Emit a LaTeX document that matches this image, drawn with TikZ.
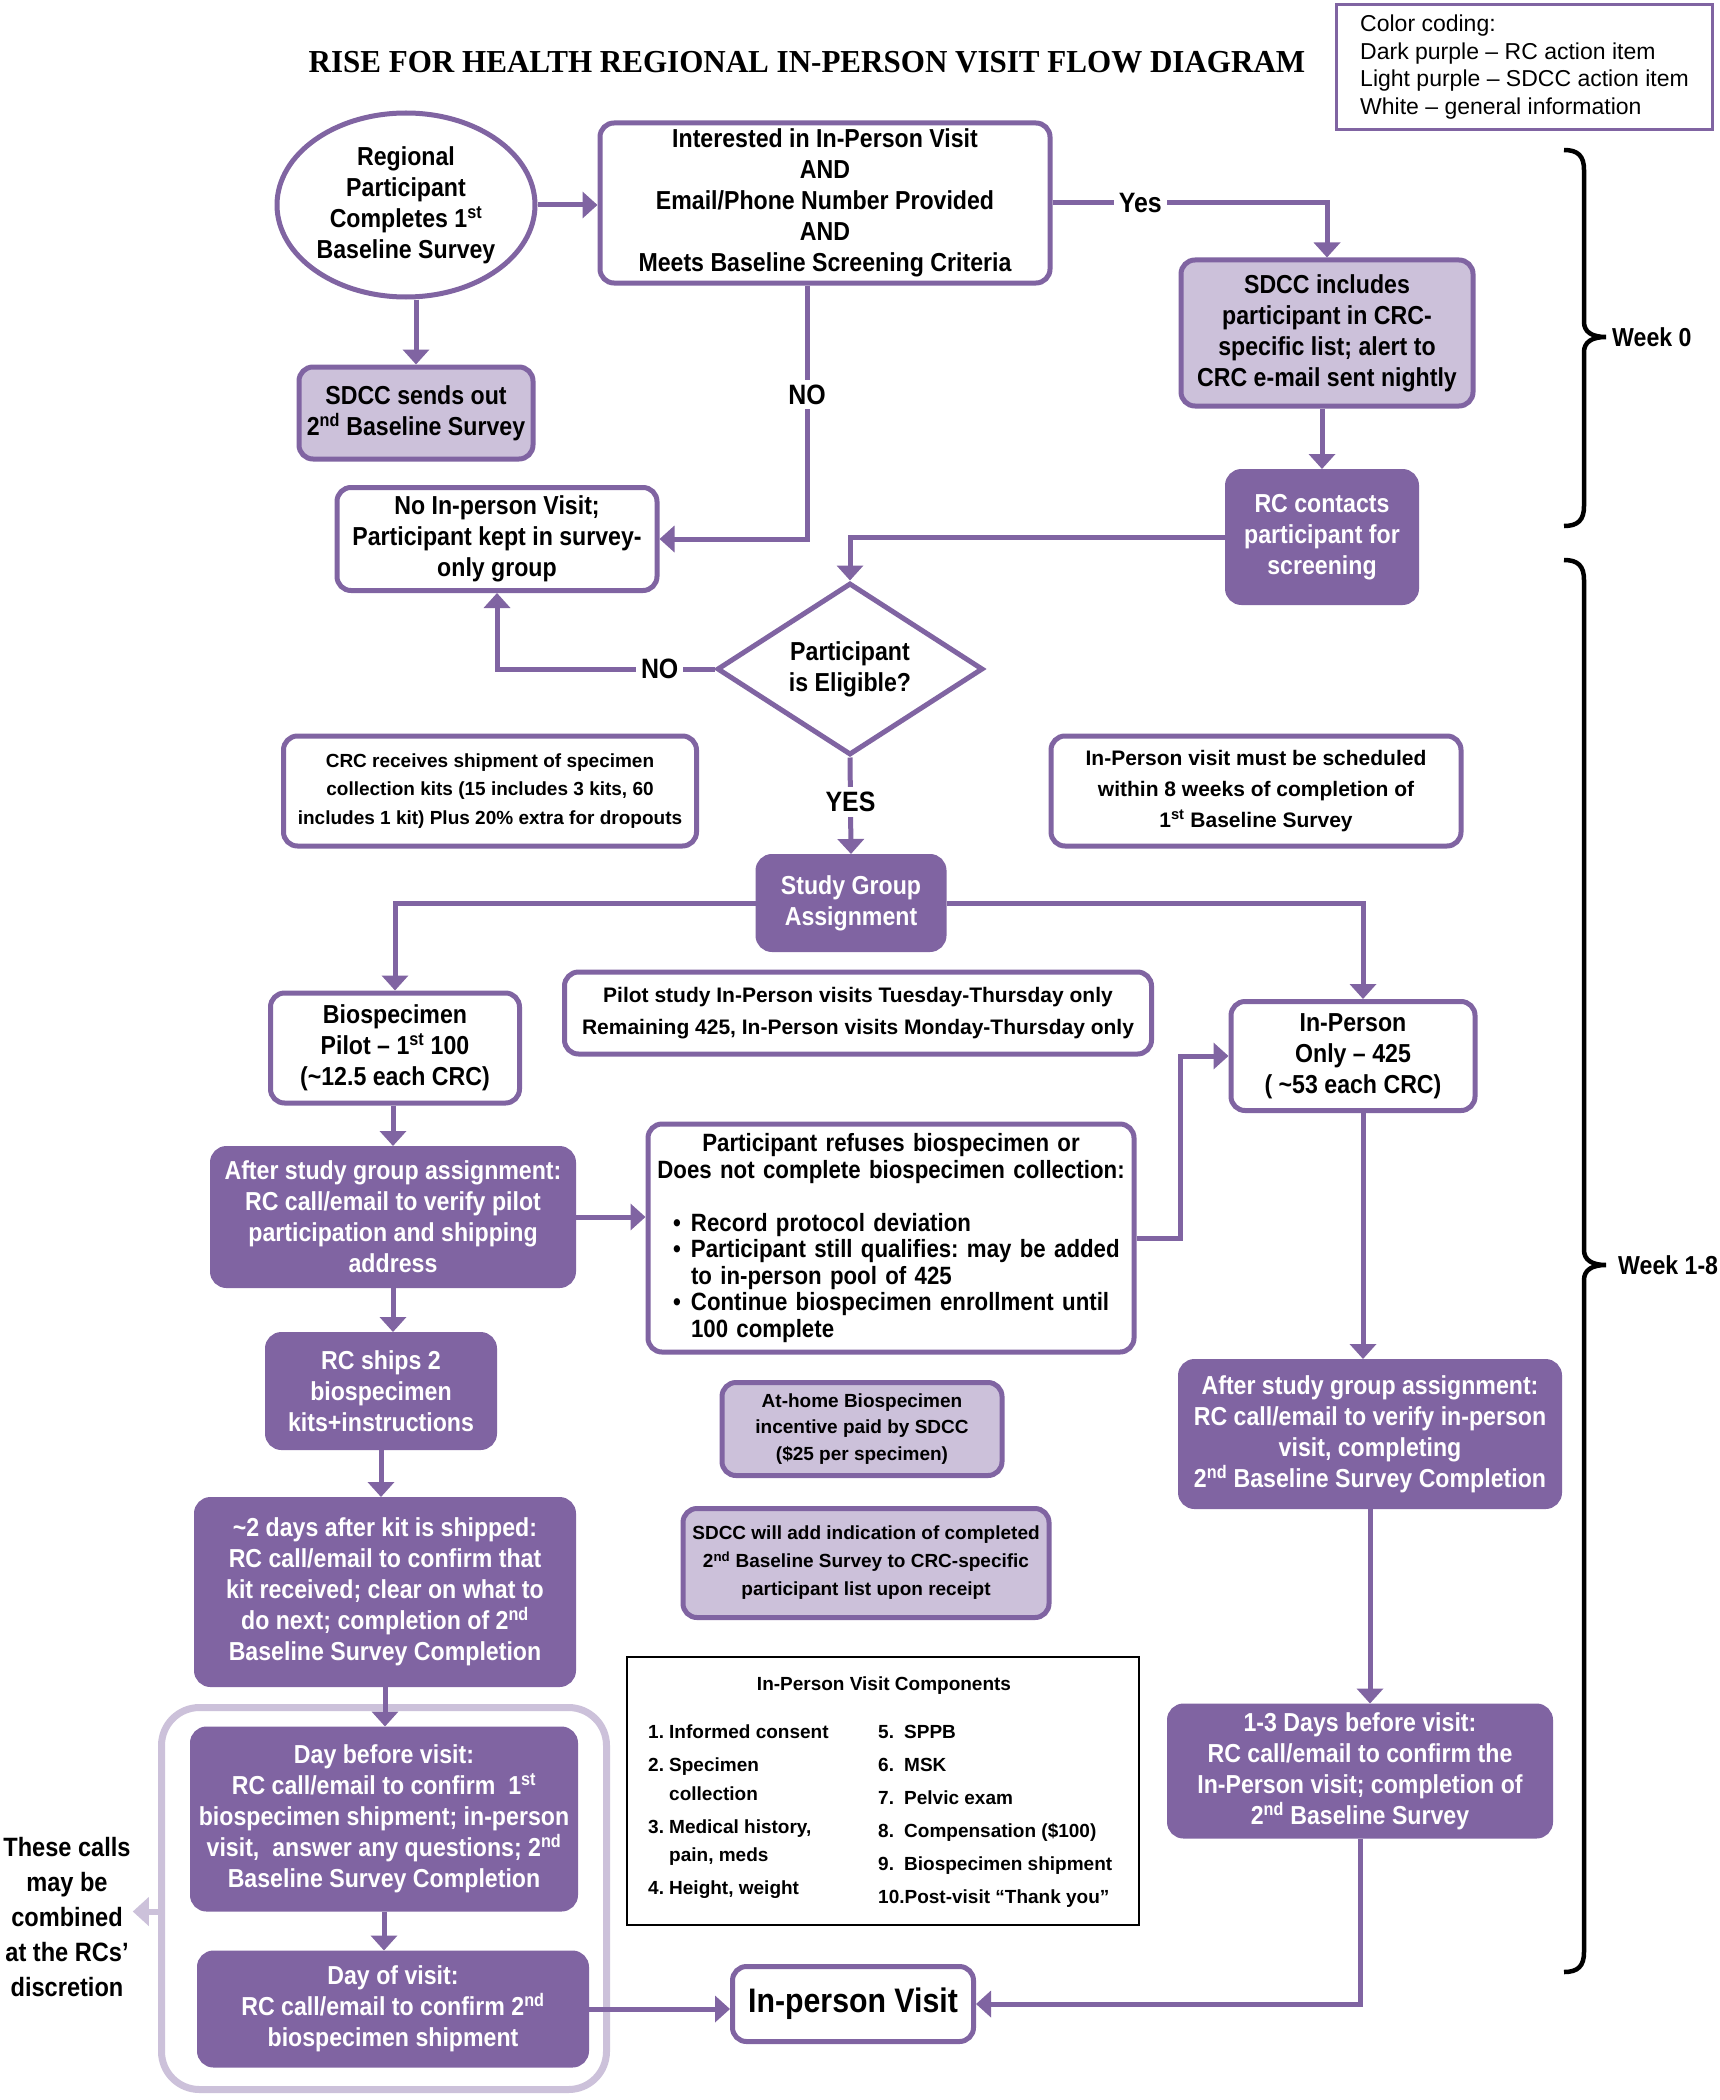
\documentclass[tikz,border=0pt]{standalone}
\usepackage{fontspec}
\setmainfont{Liberation Sans}[FakeStretch=0.89]
\newfontfamily\plainfont{Liberation Sans}
\newfontfamily\titlefont{Liberation Serif}[FakeStretch=0.97]
\usetikzlibrary{arrows.meta,shapes.geometric,calc}
\definecolor{rcpurple}{RGB}{128,100,162}
\definecolor{sdpurple}{RGB}{204,193,218}
\newcommand\bulitem{\par\noindent\hspace*{17pt}\makebox[18pt][l]{•}}
\newcommand\bulcont{\par\noindent\hspace*{35pt}}
\frenchspacing
\begin{document}
\begin{tikzpicture}[x=1pt,y=-1pt,
  bx/.style={draw=rcpurple, line width=5pt, align=center, inner sep=3pt,
    font=\bfseries\fontsize{26}{31}\selectfont},
  box/.style={bx, rectangle, rounded corners=14pt},
  rcbox/.style={box, fill=rcpurple, text=white},
  sdbox/.style={box, fill=sdpurple, text=black},
  wbox/.style={box, fill=white, text=black},
  smallfont/.style={font=\plainfont\bfseries\fontsize{19}{28.5}\selectfont},
  arr/.style={draw=rcpurple, line width=5pt, -{Triangle[width=26pt,length=15pt]}},
  lightarr/.style={draw=sdpurple, line width=6pt, -{Triangle[width=28pt,length=16pt]}},
  lbl/.style={fill=white, text=black, inner sep=5pt, font=\bfseries\fontsize{28}{30}\selectfont},
  bracepath/.style={draw=black, line width=4.5pt},
  comptext/.style={font=\plainfont\bfseries\fontsize{19}{28.5}\selectfont, align=left, inner sep=0pt, anchor=north west}
]
\fill[white] (0,0) rectangle (1719,2100);
\useasboundingbox (0,0) rectangle (1719,2100);

% title and legend
\node[font=\titlefont\bfseries\fontsize{32}{34}\selectfont] (title) at (807,62) {RISE FOR HEALTH REGIONAL IN-PERSON VISIT FLOW DIAGRAM};
\node[draw=rcpurple, line width=3pt, minimum width=376pt, minimum height=125pt, align=left, inner sep=0pt,
  font=\plainfont\fontsize{23}{27.7}\selectfont] (legend) at (1524.5,67)
  {Color coding:\\Dark purple – RC action item\\Light purple – SDCC action item\\White – general information};

% frame behind the last two calls
\node[draw=sdpurple, line width=7pt, rounded corners=38pt, minimum width=445pt, minimum height=382pt, fill=white] (frame) at (384,1898.5) {};

% top part
\node[bx, ellipse, fill=white, inner sep=0pt, minimum width=258pt, minimum height=184pt] (start) at (406,205)
  {Regional\\Participant\\Completes 1\textsuperscript{st}\\Baseline Survey};
\node[wbox, minimum width=450pt, minimum height=160pt] (inter) at (825,203)
  {Interested in In-Person Visit\\AND\\Email/Phone Number Provided\\AND\\Meets Baseline Screening Criteria};
\node[sdbox, minimum width=292pt, minimum height=146pt] (sdinc) at (1327,333)
  {SDCC includes\\participant in CRC-\\specific list; alert to\\CRC e-mail sent nightly};
\node[sdbox, minimum width=234pt, minimum height=92pt] (sdout) at (416,413)
  {SDCC sends out\\2\textsuperscript{nd} Baseline Survey};
\node[wbox, minimum width=320pt, minimum height=103pt] (noip) at (497,539)
  {No In-person Visit;\\Participant kept in survey-\\only group};
\node[rcbox, minimum width=189pt, minimum height=131pt] (rcc) at (1322,537)
  {RC contacts\\participant for\\screening};
\node[bx, diamond, fill=white, aspect=1.54, inner sep=0pt, minimum width=266pt, minimum height=172pt] (elig) at (850,669)
  {Participant\\is Eligible?};

\node[wbox, smallfont, minimum width=413pt, minimum height=110pt] (crc) at (490,791)
  {CRC receives shipment of specimen\\collection kits (15 includes 3 kits, 60\\includes 1 kit) Plus 20\% extra for dropouts};
\node[wbox, minimum width=410pt, minimum height=110pt, font=\plainfont\bfseries\fontsize{21}{31}\selectfont] (must) at (1256,791)
  {In-Person visit must be scheduled\\within 8 weeks of completion of\\1\textsuperscript{st} Baseline Survey};
\node[rcbox, minimum width=186pt, minimum height=93pt] (sga) at (851,903)
  {Study Group\\Assignment};
\node[wbox, minimum width=587pt, minimum height=82pt, font=\plainfont\bfseries\fontsize{21}{32}\selectfont] (pilot) at (858,1013)
  {Pilot study In-Person visits Tuesday-Thursday only\\Remaining 425, In-Person visits Monday-Thursday only};

% left column
\node[wbox, minimum width=249pt, minimum height=110pt] (bio) at (395,1048)
  {Biospecimen\\Pilot – 1\textsuperscript{st} 100\\(\textasciitilde 12.5 each CRC)};
\node[rcbox, minimum width=361pt, minimum height=137pt] (afterL) at (393,1217)
  {After study group assignment:\\RC call/email to verify pilot\\participation and shipping\\address};
\node[rcbox, minimum width=227pt, minimum height=113pt] (ships) at (381,1391)
  {RC ships 2\\biospecimen\\kits+instructions};
\node[rcbox, minimum width=377pt, minimum height=185pt] (twod) at (385,1592)
  {\textasciitilde 2 days after kit is shipped:\\RC call/email to confirm that\\kit received; clear on what to\\do next; completion of 2\textsuperscript{nd}\\Baseline Survey Completion};
\node[rcbox, minimum width=383pt, minimum height=180pt] (dbv) at (384,1819)
  {Day before visit:\\RC call/email to confirm\ \ 1\textsuperscript{st}\\biospecimen shipment; in-person\\visit,\ \ answer any questions; 2\textsuperscript{nd}\\Baseline Survey Completion};
\node[rcbox, minimum width=387pt, minimum height=112pt] (dov) at (393,2009)
  {Day of visit:\\RC call/email to confirm 2\textsuperscript{nd}\\biospecimen shipment};
\node[font=\bfseries\fontsize{26.5}{34.8}\selectfont, align=center, inner sep=2pt] (calls) at (67,1917)
  {These calls\\may be\\combined\\at the RCs’\\discretion};

% middle column
\node[wbox, text width=470pt, align=left, inner sep=8pt, minimum height=228pt, font=\bfseries\fontsize{25}{26.5}\selectfont] (refuse) at (891,1238)
  {{\centering Participant refuses biospecimen or\\Does not complete biospecimen collection:\par}
   \vspace{26.5pt}%
   \bulitem Record protocol deviation
   \bulitem Participant still qualifies: may be added
   \bulcont to in-person pool of 425
   \bulitem Continue biospecimen enrollment until
   \bulcont 100 complete\par};
\node[sdbox, minimum width=280pt, minimum height=93pt, font=\plainfont\bfseries\fontsize{19}{26.5}\selectfont] (athome) at (862,1429)
  {At-home Biospecimen\\incentive paid by SDCC\\(\$25 per specimen)};
\node[sdbox, minimum width=366pt, minimum height=109pt, font=\plainfont\bfseries\fontsize{19}{28}\selectfont] (sdadd) at (866,1563)
  {SDCC will add indication of completed\\2\textsuperscript{nd} Baseline Survey to CRC-specific\\participant list upon receipt};
\node[draw=black, line width=2.5pt, minimum width=512pt, minimum height=268pt] (comp) at (883,1791) {};
\node[font=\plainfont\bfseries\fontsize{19}{28.5}\selectfont, inner sep=0pt] (comptitle) at (884,1686) {In-Person Visit Components};
\node[comptext] (compleft) at (648,1725)
  {\makebox[21pt][l]{1.}Informed consent\\[4.5pt]
   \makebox[21pt][l]{2.}Specimen\\
   \hspace*{21pt}collection\\[4.5pt]
   \makebox[21pt][l]{3.}Medical history,\\
   \hspace*{21pt}pain, meds\\[4.5pt]
   \makebox[21pt][l]{4.}Height, weight};
\node[comptext, font=\plainfont\bfseries\fontsize{19}{33}\selectfont] (compright) at (878,1725)
  {\makebox[26pt][l]{5.}SPPB\\
   \makebox[26pt][l]{6.}MSK\\
   \makebox[26pt][l]{7.}Pelvic exam\\
   \makebox[26pt][l]{8.}Compensation (\$100)\\
   \makebox[26pt][l]{9.}Biospecimen shipment\\
   10.Post-visit “Thank you”};
\node[wbox, minimum width=241pt, minimum height=75pt, font=\bfseries\fontsize{34}{36}\selectfont] (visit) at (853,2004)
  {In-person Visit};

% right column
\node[wbox, minimum width=244pt, minimum height=109pt] (ipo) at (1353,1056)
  {In-Person\\Only – 425\\( \textasciitilde 53 each CRC)};
\node[rcbox, minimum width=379pt, minimum height=145pt] (afterR) at (1370,1434)
  {After study group assignment:\\RC call/email to verify in-person\\visit, completing\\2\textsuperscript{nd} Baseline Survey Completion};
\node[rcbox, minimum width=381pt, minimum height=130pt] (d13) at (1360,1771)
  {1-3 Days before visit:\\RC call/email to confirm the\\In-Person visit; completion of\\2\textsuperscript{nd} Baseline Survey};

% connectors
\draw[arr] (start.east) -- (start.east -| inter.west);
\draw[arr] (inter.east) -| node[lbl, pos=0.16] (yeslbl) {Yes} (sdinc.north);
\draw[arr] (sdout.north |- start.south) -- (sdout.north);
\draw[arr] ([xshift=-18pt]inter.south) |- node[lbl, pos=0.215] (nolbl1) {NO} (noip.east);
\draw[arr] (rcc.north |- sdinc.south) -- (rcc.north);
\draw[arr] (rcc.west) -| (elig.north);
\draw[arr] (elig.west) -| node[lbl, pos=0.126] (nolbl2) {NO} (noip.south);
\draw[arr] (elig.south) -- node[lbl, pos=0.46] (yeslbl2) {YES} (sga.north);
\draw[arr] (sga.west) -| (bio.north);
\draw[arr] (sga.east) -| ([xshift=10pt]ipo.north);
\draw[arr] (afterL.north |- bio.south) -- (afterL.north);
\draw[arr] (afterL.east) -- (afterL.east -| refuse.west);
\draw[arr] (refuse.east) -- ++(44,0) |- (ipo.west);
\draw[arr] (afterL.south) -- (afterL.south |- ships.north);
\draw[arr] (ships.south) -- (ships.south |- twod.north);
\draw[arr] (twod.south) -- (twod.south |- dbv.north);
\draw[arr] (dbv.south) -- (dbv.south |- dov.north);
\draw[arr] (dov.east) -- (dov.east -| visit.west);
\draw[arr] ([xshift=10pt]ipo.south) -- ([xshift=10pt]ipo.south |- afterR.north);
\draw[arr] (afterR.south) -- (afterR.south |- d13.north);
\draw[arr] (d13.south) |- (visit.east);
\draw[lightarr] (frame.west |- dbv.south) -- (calls.east |- dbv.south);

% braces
\draw[bracepath] (1564,150) .. controls (1578,150) and (1584,156) .. (1584,170) -- (1584,322)
  .. controls (1584,332) and (1592,337) .. (1606,337)
  .. controls (1592,337) and (1584,342) .. (1584,352) -- (1584,506)
  .. controls (1584,520) and (1578,526) .. (1564,526);
\draw[bracepath] (1564,560) .. controls (1578,560) and (1584,566) .. (1584,580) -- (1584,1250)
  .. controls (1584,1260) and (1592,1265) .. (1606,1265)
  .. controls (1592,1265) and (1584,1270) .. (1584,1280) -- (1584,1952)
  .. controls (1584,1966) and (1578,1972) .. (1564,1972);
\node[anchor=west, inner sep=0pt, font=\bfseries\fontsize{26}{30}\selectfont] (wk0) at (1612,337) {Week 0};
\node[anchor=west, inner sep=0pt, font=\bfseries\fontsize{26}{30}\selectfont] (wk18) at (1618,1265) {Week 1-8};
\end{tikzpicture}
\end{document}
